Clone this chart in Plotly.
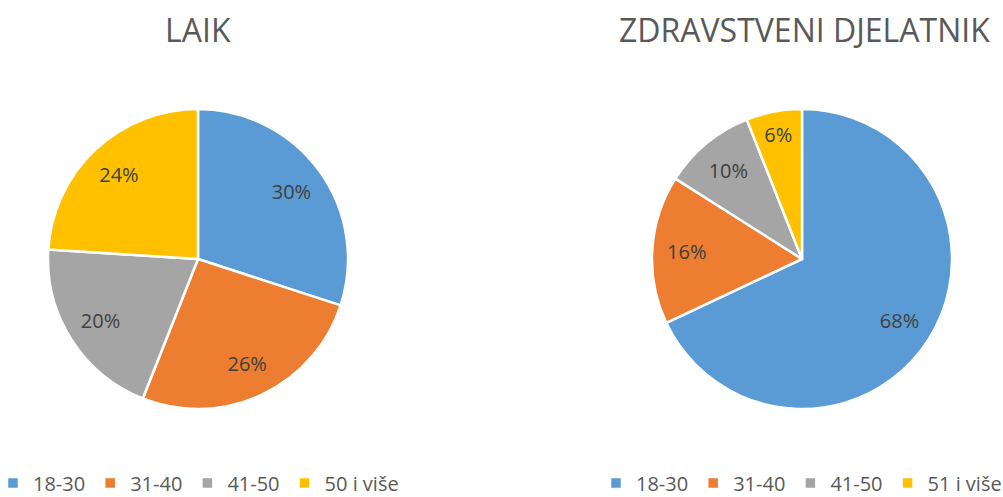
import plotly.graph_objects as go

left_title = "LAIK"
right_title = "ZDRAVSTVENI DJELATNIK"
left_labels = ["18-30", "31-40", "41-50", "50 i više"]
left_values = [30, 26, 20, 24]
right_labels = ["18-30", "31-40", "41-50", "51 i više"]
right_values = [68, 16, 10, 6]
colors = ["#5B9BD5", "#ED7D31", "#A5A5A5", "#FFC000"]

W, H = 1003, 497
FONT = "Open Sans"
LABEL_COLOR = "#404040"
TEXT_COLOR = "#595959"

# pie geometry (pixels): centre and radius
R = 150
CY = 259
left_cx, right_cx = 198, 802


def dom(cx):
    return dict(x=[(cx - R) / W, (cx + R) / W], y=[(H - CY - R) / H, (H - CY + R) / H])


# keep the right legend's entries distinct from the left legend's (pie legend keys are labels)
right_keys = [lab + "\u200b" for lab in right_labels]

fig = go.Figure()
for labels, values, cx, leg in [(left_labels, left_values, left_cx, "legend"),
                                (right_keys, right_values, right_cx, "legend2")]:
    # coloured pie (no text)
    fig.add_trace(go.Pie(
        labels=labels, values=values, sort=False, direction="clockwise",
        marker=dict(colors=colors, line=dict(color="white", width=2.5)),
        textinfo="none", domain=dom(cx), legend=leg, hoverinfo="label+percent",
    ))
    # transparent ring used only to place the percentage labels further out
    fig.add_trace(go.Pie(
        labels=labels, values=values, sort=False, direction="clockwise", hole=0.54,
        marker=dict(colors=["rgba(0,0,0,0)"] * len(values), line=dict(width=0)),
        texttemplate="%{percent:.0%}", textposition="inside",
        insidetextorientation="horizontal",
        textfont=dict(family=FONT, size=20, color=LABEL_COLOR),
        domain=dom(cx), showlegend=False, hoverinfo="skip",
    ))

legend_common = dict(orientation="h", yanchor="middle", y=(H - 483) / H, xanchor="left",
                     font=dict(family=FONT, size=20, color=TEXT_COLOR),
                     itemwidth=30, bgcolor="rgba(0,0,0,0)", borderwidth=0,
                     itemclick=False, itemdoubleclick=False)

fig.update_layout(
    width=W, height=H,
    margin=dict(l=0, r=0, t=0, b=0, autoexpand=False),
    paper_bgcolor="white", plot_bgcolor="white",
    font=dict(family=FONT, color=TEXT_COLOR),
    uniformtext=dict(mode="show", minsize=20),
    annotations=[
        dict(text=left_title, x=left_cx / W, y=1 - 30 / H, xref="paper", yref="paper",
             xanchor="center", yanchor="middle", showarrow=False,
             font=dict(family=FONT, size=32, color=TEXT_COLOR)),
        dict(text=right_title, x=804 / W, y=1 - 30 / H, xref="paper", yref="paper",
             xanchor="center", yanchor="middle", showarrow=False,
             font=dict(family=FONT, size=32, color=TEXT_COLOR)),
    ],
    legend=dict(legend_common, x=-7 / W),
    legend2=dict(legend_common, x=596 / W),
)

fig.write_html("out.html", config={"displayModeBar": False},
               post_script="document.body.style.margin='0';")
